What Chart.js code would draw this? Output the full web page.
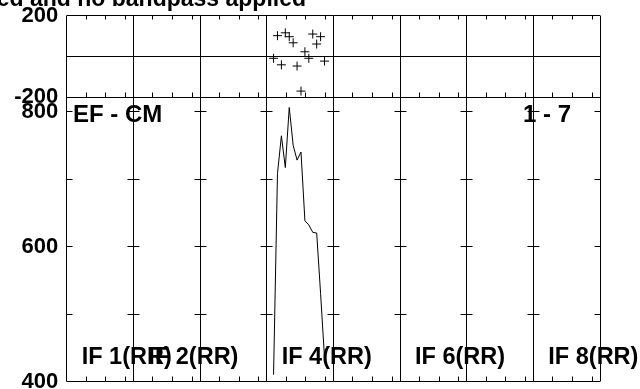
<!DOCTYPE html>
<html>
<head>
<meta charset="utf-8">
<script src="https://cdn.jsdelivr.net/npm/chart.js@4"></script>
<style>
  html, body { margin: 0; padding: 0; background: #fff; }
</style>
</head>
<body>
<canvas id="myChart" width="640" height="389"></canvas>
<script>
var ifCount = 8;
var chansPerIF = 17;
var dataIF = 4;
var channels = [2, 3, 4, 5, 6, 7, 8, 9, 10, 11, 12, 13, 14, 15];
var phase = [-10, 101, -42, 115, 96, 66, -48, -171, 22, -10, 109, 60, 96, -24];
var amplitude = [410, 708, 764, 717, 806, 750, 728, 740, 638, 632, 621, 620, 530, 435];
var phaseTicks = [-200, 200];
var ampTicks = [400, 600, 800];
var ampMinor = [500, 600, 700, 800];
var chanTicks = [5, 10, 15];
var ifLabels = ['IF 1(RR)', 'IF 2(RR)', 'IF 4(RR)', 'IF 6(RR)', 'IF 8(RR)'];
var ifLabelIF = [1, 2, 4, 6, 8];
var titleText = 'ed and no bandpass applied';
var baselineText = 'EF - CM';
var timeText = '1 - 7';

var FONT = '"Liberation Sans", Arial, sans-serif';

function chanX(ch) { return (dataIF - 1) + (ch - 0.25) / chansPerIF; }

var phasePts = channels.map(function (c, i) { return { x: chanX(c), y: phase[i] }; });
var ampPts = channels.map(function (c, i) { return { x: chanX(c), y: amplitude[i] }; });

function px(v) { return Math.floor(v) + 0.5; }

function fixAxis(s) {
  s.width = 66.7;
  s.paddingTop = 0;
  s.paddingBottom = 0;
}

var possmFrame = {
  id: 'possmFrame',
  beforeDatasetsDraw: function (chart) {
    var ctx = chart.ctx, a = chart.chartArea;
    var yp = chart.scales.yPh, ya = chart.scales.yAmp;
    var w = (a.right - a.left) / ifCount;
    var pTop = px(yp.getPixelForValue(200)), pBot = px(yp.getPixelForValue(-200));
    var pZero = px(yp.getPixelForValue(0));
    var aBot = px(ya.getPixelForValue(400));
    ctx.save();
    ctx.strokeStyle = '#000';
    ctx.lineWidth = 1;
    function seg(x1, y1, x2, y2) {
      ctx.beginPath(); ctx.moveTo(x1, y1); ctx.lineTo(x2, y2); ctx.stroke();
    }
    // horizontal frame lines
    seg(a.left, pTop, a.right, pTop);
    seg(a.left, pZero, a.right, pZero);
    seg(a.left, pBot, a.right, pBot);
    seg(a.left, aBot, a.right, aBot);
    // IF dividers and their ticks
    for (var k = 0; k <= ifCount; k++) {
      var x = px(a.left + k * w);
      seg(x, pTop, x, aBot);
      ampMinor.forEach(function (v) {
        var y = px(ya.getPixelForValue(v));
        seg(Math.max(a.left, x - 6), y, Math.min(a.right, x + 6), y);
      });
      if (k === ifCount) break;
      chanTicks.forEach(function (c) {
        var tx = px(a.left + (k + c / chansPerIF) * w);
        seg(tx, pTop, tx, pTop + 4);
        seg(tx, pBot, tx, pBot - 5);
        seg(tx, aBot, tx, aBot - 5);
      });
    }
    ctx.restore();
  },
  afterDraw: function (chart) {
    var ctx = chart.ctx, a = chart.chartArea;
    var w = (a.right - a.left) / ifCount;
    ctx.save();
    ctx.fillStyle = '#000';
    ctx.textBaseline = 'alphabetic';
    ctx.font = 'bold 23px ' + FONT;
    ctx.textAlign = 'right';
    ctx.fillText(titleText, 306, 5.5);
    ctx.font = 'bold 24px ' + FONT;
    ctx.fillText(timeText, 571, 122);
    ctx.textAlign = 'left';
    ctx.fillText(baselineText, 73, 122);
    ctx.font = 'bold 23.5px ' + FONT;
    ifLabels.forEach(function (t, i) {
      ctx.fillText(t, a.left + (ifLabelIF[i] - 1) * w + 15, 364);
    });
    ctx.restore();
  }
};

var ctx = document.getElementById('myChart').getContext('2d');
var myChart = new Chart(ctx, {
  type: 'scatter',
  data: {
    datasets: [{
      label: 'Amplitude',
      type: 'line',
      data: ampPts,
      yAxisID: 'yAmp',
      borderColor: '#000',
      borderWidth: 1,
      pointRadius: 0,
      tension: 0,
      fill: false
    }, {
      label: 'Phase',
      data: phasePts,
      yAxisID: 'yPh',
      pointStyle: 'cross',
      pointRadius: 4.5,
      borderColor: '#000',
      borderWidth: 1,
      backgroundColor: '#000'
    }]
  },
  options: {
    responsive: false,
    animation: false,
    layout: { padding: { left: 0, right: 40, top: 15.5, bottom: 7.5 } },
    plugins: {
      legend: { display: false },
      tooltip: { enabled: false }
    },
    scales: {
      x: { type: 'linear', min: 0, max: ifCount, display: false },
      yAmp: {
        type: 'linear', position: 'left', stack: 'possm', stackWeight: 284.5,
        min: 400, max: 821.5,
        grid: { display: false, drawTicks: false }, border: { display: false },
        afterBuildTicks: function (s) { s.ticks = ampTicks.map(function (v) { return { value: v }; }); },
        afterFit: fixAxis,
        ticks: { color: '#000', padding: 8.5, font: { family: FONT, size: 22, weight: 'bold' } }
      },
      yPh: {
        type: 'linear', position: 'left', stack: 'possm', stackWeight: 81.5,
        min: -200, max: 200,
        grid: { display: false, drawTicks: false }, border: { display: false },
        afterBuildTicks: function (s) { s.ticks = phaseTicks.map(function (v) { return { value: v }; }); },
        afterFit: fixAxis,
        ticks: { color: '#000', padding: 8.5, font: { family: FONT, size: 22, weight: 'bold' } }
      }
    }
  },
  plugins: [possmFrame]
});
</script>
</body>
</html>
